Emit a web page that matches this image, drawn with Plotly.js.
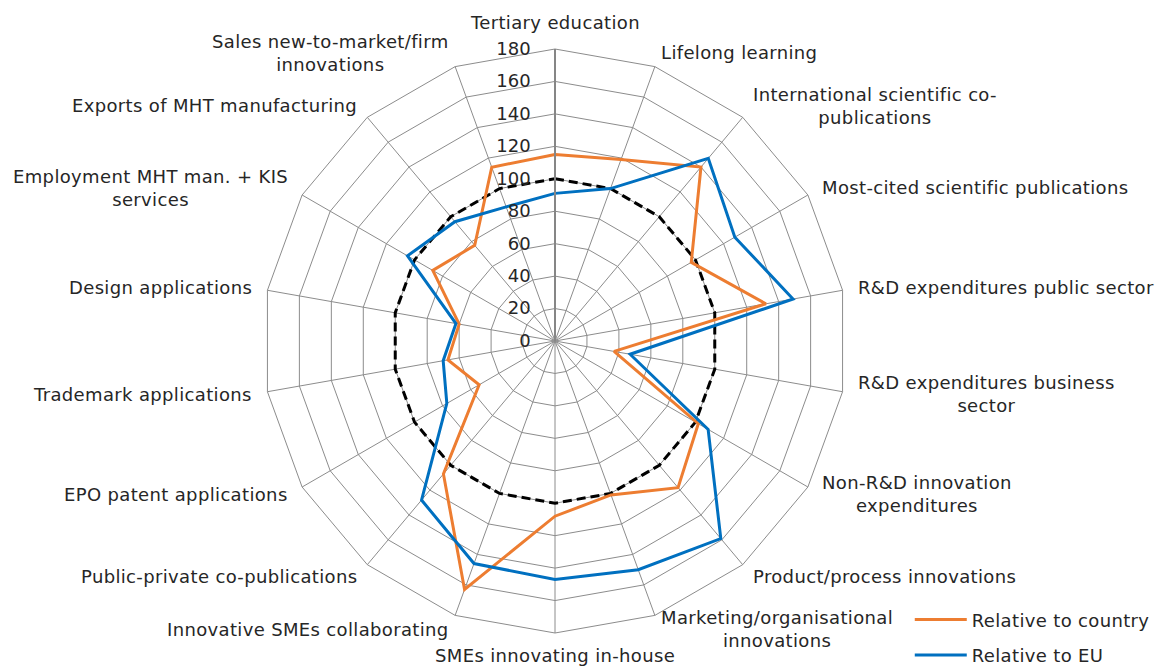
<!DOCTYPE html>
<html>
<head>
<meta charset="utf-8">
<script src="https://cdn.plot.ly/plotly-3.0.1.min.js"></script>
<style>
html,body{margin:0;padding:0;background:#fff;}
#chart{width:1156px;height:666px;}
text.annotation-text, text.legendtext { letter-spacing: 0.35px; }
</style>
</head>
<body>
<div id="chart"></div>
<script>
const categories = [
  "Tertiary education",
  "Lifelong learning",
  "International scientific co-<br>publications",
  "Most-cited scientific publications",
  "R&D expenditures public sector",
  "R&D expenditures business<br>sector",
  "Non-R&D innovation<br>expenditures",
  "Product/process innovations",
  "Marketing/organisational<br>innovations",
  "SMEs innovating in-house",
  "Innovative SMEs collaborating",
  "Public-private co-publications",
  "EPO patent applications",
  "Trademark applications",
  "Design applications",
  "Employment MHT man. + KIS<br>services",
  "Exports of MHT manufacturing",
  "Sales new-to-market/firm<br>innovations"
];
const relativeToCountry = [115, 119, 140, 97, 132, 37, 102, 118, 101, 108, 163, 107, 54, 67, 60, 87, 77, 114];
const relativeToEU      = [91, 100, 147, 128, 149, 47, 109, 159, 150, 147, 146, 128, 77, 70, 62, 105, 96, 88];
const reference         = [100, 100, 100, 100, 100, 100, 100, 100, 100, 100, 100, 100, 100, 100, 100, 100, 100, 100];
const radialTicks = [0, 20, 40, 60, 80, 100, 120, 140, 160, 180];

function closed(arr){ return arr.concat([arr[0]]); }

const font = "DejaVu Sans, Verdana, sans-serif";
const fontSize = 18;
const textColor = "#262626";
const gridColor = "#8c8c8c";

const cx = 555, cy = 341, R = 292, W = 1156, H = 666;
const labelGap = 15;

// Category labels placed outside each polygon vertex (centred lines, like the original)
const labelAnnotations = categories.map(function(lab, i){
  const a = i * 2 * Math.PI / categories.length;
  const s = Math.sin(a), c = Math.cos(a);
  const px = cx + (R + labelGap) * s;
  const py = cy - (R + labelGap) * c;
  let xanchor = "center", yanchor = "middle", yshift = 0;
  if (s > 0.05) xanchor = "left"; else if (s < -0.05) xanchor = "right";
  if (Math.abs(s) <= 0.05) {
    yanchor = c > 0 ? "bottom" : "top";
    if (c < 0) yshift = 4;
  }
  return {
    text: lab, showarrow: false, xref: "paper", yref: "paper",
    x: px / W, y: 1 - py / H, xanchor: xanchor, yanchor: yanchor, yshift: yshift,
    align: "center", borderpad: 0,
    font: {family: font, size: fontSize, color: textColor}
  };
});

const traces = [
  {
    type: "scatterpolar", mode: "lines",
    r: closed(reference), theta: closed(categories),
    line: {color: "#000000", width: 3, dash: "9px,5px"},
    showlegend: false, hoverinfo: "skip"
  },
  {
    type: "scatterpolar", mode: "lines", name: "Relative to country", legendgroup: "a",
    r: closed(relativeToCountry), theta: closed(categories),
    line: {color: "#ED7D31", width: 3}
  },
  {
    type: "scatterpolar", mode: "lines", name: "Relative to EU", legendgroup: "b",
    r: closed(relativeToEU), theta: closed(categories),
    line: {color: "#0070C0", width: 3}
  }
];

const layout = {
  width: W, height: H,
  margin: {l: 0, r: 0, t: 0, b: 0, autoexpand: false},
  paper_bgcolor: "#ffffff",
  font: {family: font, size: fontSize, color: textColor},
  showlegend: true,
  legend: {
    x: 0.787, y: -0.011, xanchor: "left", yanchor: "bottom",
    bgcolor: "rgba(0,0,0,0)", font: {family: font, size: fontSize, color: textColor},
    itemwidth: 52, traceorder: "grouped", tracegroupgap: 9
  },
  annotations: labelAnnotations,
  polar: {
    domain: {x: [(cx - R) / W, (cx + R) / W], y: [(H - cy - R) / H, (H - cy + R) / H]},
    bgcolor: "#ffffff",
    gridshape: "linear",
    radialaxis: {
      range: [0, 180], tickvals: radialTicks, ticktext: radialTicks.map(String),
      angle: 90, tickangle: 90, side: "counterclockwise",
      showline: true, linecolor: "#868686", linewidth: 2,
      gridcolor: gridColor, gridwidth: 1,
      ticks: "outside", ticklen: 17, tickcolor: "rgba(0,0,0,0)",
      tickfont: {family: font, size: fontSize, color: textColor}
    },
    angularaxis: {
      type: "category", categoryarray: categories,
      rotation: 90, direction: "clockwise",
      showline: true, linecolor: gridColor, linewidth: 1,
      gridcolor: gridColor, gridwidth: 1,
      ticks: "", showticklabels: false
    }
  }
};

Plotly.newPlot("chart", traces, layout, {displayModeBar: false, staticPlot: true});
</script>
</body>
</html>
